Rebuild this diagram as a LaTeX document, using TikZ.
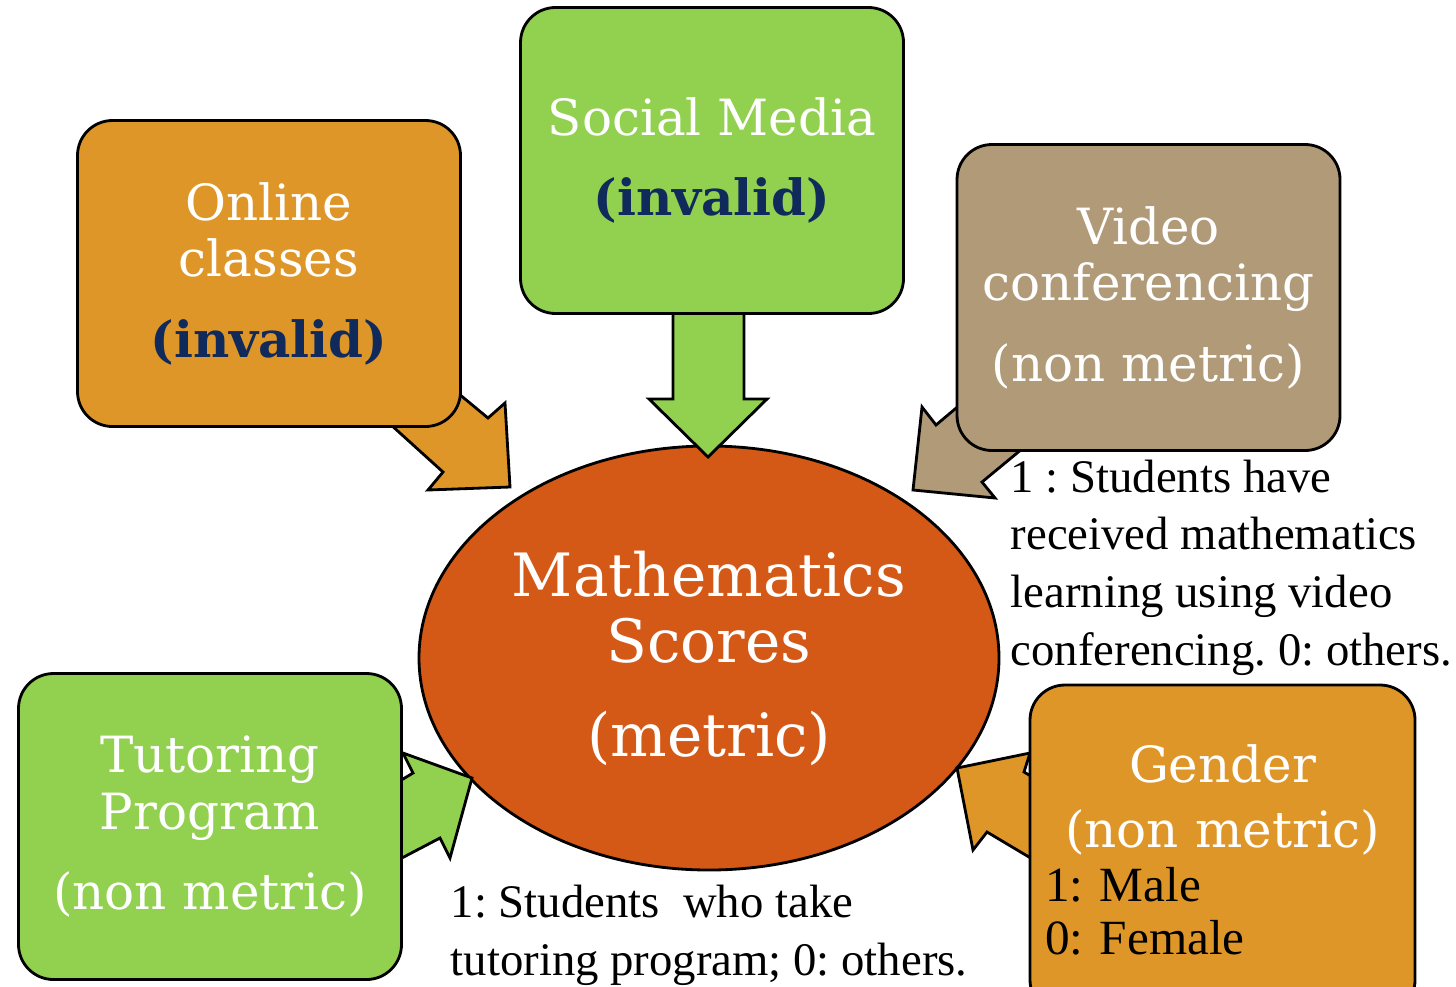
\documentclass[tikz,border=0pt]{standalone}
\usepackage{fontspec}
\setmainfont{Liberation Serif}
\newfontfamily\headfont{DejaVu Serif}
\usetikzlibrary{shapes.geometric}
\definecolor{boxorange}{HTML}{DF9628}
\definecolor{boxgreen}{HTML}{92D050}
\definecolor{boxtan}{HTML}{B09A78}
\definecolor{scorered}{HTML}{D45816}
\definecolor{navy}{HTML}{102A5C}
\frenchspacing
\begin{document}
\begin{tikzpicture}[
	varbox/.style={draw=black, line width=0.8pt, rounded corners=0.35cm, minimum width=3.83cm, minimum height=3.06cm, inner sep=0pt, align=center, text=white, font=\headfont\fontsize{14.2}{16.2}\selectfont},
	blockarrow/.style={draw=black, line width=0.8pt, line join=miter},
	note/.style={anchor=base west, inner sep=0pt, align=left, font=\fontsize{13.3}{16.4}\selectfont}
]
	\useasboundingbox (0,0) rectangle (14.56,9.86);
	\clip (0,0) rectangle (14.56,9.86);
	\node[ellipse, draw=black, line width=0.8pt, fill=scorered, minimum width=5.8cm, minimum height=4.24cm, inner sep=0pt, align=center, text=white, font=\headfont\fontsize{17}{19}\selectfont] (scores) at (7.09,3.28) {Mathematics\\Scores\\[7.5pt](metric)};
	\draw[blockarrow, fill=boxorange] (3.90,5.62) -- (4.43,5.14) -- (4.28,4.96) -- (5.10,4.99) -- (5.05,5.83) -- (4.88,5.68) -- (4.30,6.16) -- cycle;
	\draw[blockarrow, fill=boxgreen] (6.73,6.76) -- (6.73,5.87) -- (6.49,5.87) -- (7.08,5.29) -- (7.67,5.87) -- (7.44,5.87) -- (7.44,6.76) -- cycle;
	\draw[blockarrow, fill=boxtan] (9.74,5.93) -- (9.36,5.61) -- (9.22,5.79) -- (9.13,4.96) -- (9.95,4.88) -- (9.82,5.04) -- (10.28,5.42) -- cycle;
	\draw[blockarrow, fill=boxgreen] (3.98,2.04) -- (4.13,2.13) -- (4.03,2.33) -- (4.72,2.08) -- (4.50,1.28) -- (4.40,1.48) -- (3.98,1.26) -- cycle;
	\draw[blockarrow, fill=boxorange] (10.34,2.08) -- (10.24,2.14) -- (10.30,2.33) -- (9.57,2.18) -- (9.73,1.36) -- (9.87,1.54) -- (10.34,1.26) -- cycle;
	\node[varbox, fill=boxorange] (online) at (2.69,7.125) {Online\\classes\\[6.6pt]{\bfseries\color{navy}(invalid)}};
	\node[varbox, fill=boxgreen] (social) at (7.12,8.255) {Social Media\\[6.6pt]{\bfseries\color{navy}(invalid)}};
	\node[varbox, fill=boxtan] (video) at (11.485,6.885) {Video\\conferencing\\[6.6pt](non metric)};
	\node[varbox, fill=boxgreen] (tutoring) at (2.10,1.595) {Tutoring\\Program\\[6.6pt](non metric)};
	\node[varbox, fill=boxorange, minimum width=3.85cm, minimum height=3.3cm, text width=3.55cm, align=left] (gender) at (12.225,1.36) {{\centering Gender\\[2.3pt](non metric)\par}{\rmfamily\color{black}\fontsize{14}{15.2}\selectfont 1: Male\\0: Female\par}};
	\node[note] (videonote) at (10.10,3.21) {1 : Students have\\received mathematics\\learning using video\\conferencing. 0: others.};
	\node[note] (tutoringnote) at (4.50,0.11) {1: Students\ \ who take\\tutoring program; 0: others.};
\end{tikzpicture}
\end{document}
